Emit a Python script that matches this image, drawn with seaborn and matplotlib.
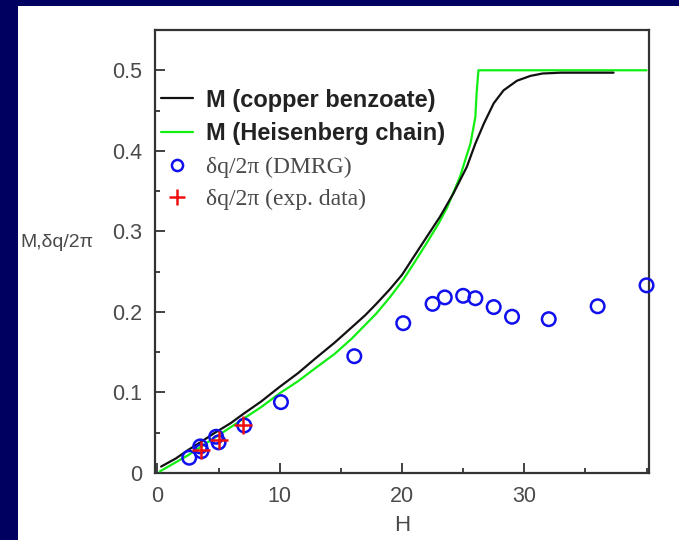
import matplotlib
matplotlib.use("Agg")
import matplotlib.pyplot as plt
from matplotlib.patches import Rectangle
from matplotlib.lines import Line2D
from matplotlib.legend_handler import HandlerLine2D
from matplotlib.font_manager import FontProperties
from matplotlib.ticker import MultipleLocator
import seaborn as sns
import pandas as pd

# Magnetization of copper benzoate (measured)
H_cb = [0.3, 1.5, 2.5, 3.5, 4.7, 6.0, 6.9, 8.5, 10.0, 11.5, 12.9, 14.5, 15.9,
        17.0, 17.9, 19.0, 20.0, 21.5, 23.1, 24.2, 25.3, 26.0, 26.7, 27.5,
        28.3, 29.4, 30.5, 31.5, 33.0, 35.0, 37.3]
M_cb = [0.008, 0.018, 0.0285, 0.038, 0.050, 0.062, 0.072, 0.089, 0.107, 0.124,
        0.142, 0.162, 0.181, 0.196, 0.210, 0.228, 0.246, 0.281, 0.318, 0.347,
        0.380, 0.409, 0.434, 0.459, 0.475, 0.487, 0.493, 0.496, 0.497, 0.497,
        0.497]

# Magnetization of the Heisenberg chain
H_hc = [0.2, 2.5, 4.7, 6.9, 8.5, 10.0, 11.5, 12.9, 14.5, 15.9, 17.9, 19.0,
        20.1, 21.0, 22.0, 23.0, 23.7, 24.75, 25.2, 25.6, 26.0, 26.1, 26.25,
        40.0]
M_hc = [0.002, 0.022, 0.044, 0.066, 0.082, 0.099, 0.114, 0.130, 0.148, 0.167,
        0.198, 0.218, 0.240, 0.261, 0.285, 0.310, 0.330, 0.368, 0.390, 0.409,
        0.442, 0.471, 0.500, 0.500]

# Incommensurability dq/2pi from DMRG
H_dmrg = [2.6, 3.5, 3.6, 4.8, 5.0, 7.1, 10.1, 16.1, 20.1, 22.5, 23.5, 25.0,
          26.0, 27.5, 29.0, 32.0, 36.0, 40.0]
q_dmrg = [0.019, 0.033, 0.027, 0.045, 0.038, 0.059, 0.088, 0.145, 0.186,
          0.210, 0.218, 0.220, 0.217, 0.206, 0.194, 0.191, 0.207, 0.233]

# Incommensurability dq/2pi from experiment
H_exp = [3.6, 5.0, 7.0]
q_exp = [0.029, 0.041, 0.060]

labels = ["M (copper benzoate)", "M (Heisenberg chain)",
          "δq/2π (DMRG)", "δq/2π (exp. data)"]

BLACK = "#111111"
GREEN = "#11ee11"
BLUE = "#1010ee"
RED = "#ee1010"
NAVY = "#000060"
TXT = "#4a4a4a"

sns.set_style("ticks")
plt.rcParams["font.family"] = ["Liberation Sans", "DejaVu Sans"]

fig = plt.figure(figsize=(6.79, 5.40), dpi=100, facecolor=NAVY)
fig.add_artist(Rectangle((18 / 679, 0), 1 - 18 / 679, 1 - 6 / 540,
                         transform=fig.transFigure, facecolor="white",
                         edgecolor="none", zorder=-1))

ax = fig.add_axes([155 / 679, 1 - 473 / 540, 494 / 679, 443 / 540])
ax.set_facecolor("white")

df_cb = pd.DataFrame({"H": H_cb, "M": M_cb})
df_hc = pd.DataFrame({"H": H_hc, "M": M_hc})
df_dmrg = pd.DataFrame({"H": H_dmrg, "q": q_dmrg})
df_exp = pd.DataFrame({"H": H_exp, "q": q_exp})

sns.lineplot(data=df_hc, x="H", y="M", sort=False, color=GREEN, lw=1.6,
             ax=ax, zorder=3)
sns.lineplot(data=df_cb, x="H", y="M", sort=False, color=BLACK, lw=1.6,
             ax=ax, zorder=4)
sns.scatterplot(data=df_dmrg, x="H", y="q", marker="o", s=95,
                facecolor="none", edgecolor=BLUE, linewidth=1.8, ax=ax,
                zorder=5, clip_on=False)
sns.scatterplot(data=df_exp, x="H", y="q", marker="+", s=180, color=RED,
                linewidth=1.8, ax=ax, zorder=6)

ax.set_xlim(-0.2, 40.2)
ax.set_ylim(0, 0.55)
ax.xaxis.set_major_locator(MultipleLocator(10))
ax.xaxis.set_minor_locator(MultipleLocator(5))
ax.yaxis.set_major_locator(MultipleLocator(0.1))
ax.yaxis.set_minor_locator(MultipleLocator(0.05))
ax.set_xticks([0, 10, 20, 30])
ax.set_xticklabels(["0", "10", "20", "30"])
ax.set_yticks([0, 0.1, 0.2, 0.3, 0.4, 0.5])
ax.set_yticklabels(["0", "0.1", "0.2", "0.3", "0.4", "0.5"])

for s in ax.spines.values():
    s.set_color("#333333")
    s.set_linewidth(1.6)
ax.tick_params(which="both", direction="in", color="#333333", width=1.3,
               top=False, right=False, labelsize=15.5, labelcolor=TXT)
ax.tick_params(which="major", length=7, pad=9)
ax.tick_params(which="minor", length=3.5)

ax.set_xlabel("H", fontsize=16, color=TXT, labelpad=6)
ax.set_ylabel("M,δq/2π", fontsize=14, color=TXT, rotation=0,
              ha="left", va="center")
ax.yaxis.set_label_coords((20 - 155) / 494, (473 - 243) / 443)


class MarkerRight(HandlerLine2D):
    def get_xdata(self, legend, xdescent, ydescent, width, height, fontsize):
        xdata, _ = super().get_xdata(legend, xdescent, ydescent, width,
                                     height, fontsize)
        return xdata, [-xdescent + 0.85 * width]


handles = [
    Line2D([], [], color=BLACK, lw=1.6),
    Line2D([], [], color=GREEN, lw=1.6),
    Line2D([], [], ls="none", marker="o", ms=8, mfc="none", mec=BLUE, mew=1.8),
    Line2D([], [], ls="none", marker="+", ms=12, color=RED, mew=1.8),
]
leg = ax.legend(handles, labels, loc="upper left",
                bbox_to_anchor=(-0.022, 0.905), frameon=False,
                handlelength=1.35, handletextpad=0.55, labelspacing=0.46,
                borderaxespad=0.3, fontsize=17,
                handler_map={handles[2]: MarkerRight(),
                             handles[3]: MarkerRight()})
bold = FontProperties(family="Liberation Sans", weight="bold", size=17)
serif = FontProperties(family="Liberation Serif", size=17)
texts = leg.get_texts()
for t in texts[:2]:
    t.set_fontproperties(bold)
    t.set_color("#222222")
for t in texts[2:]:
    t.set_fontproperties(serif)
    t.set_color(TXT)

fig.savefig("out.png", dpi=100, facecolor=NAVY)
